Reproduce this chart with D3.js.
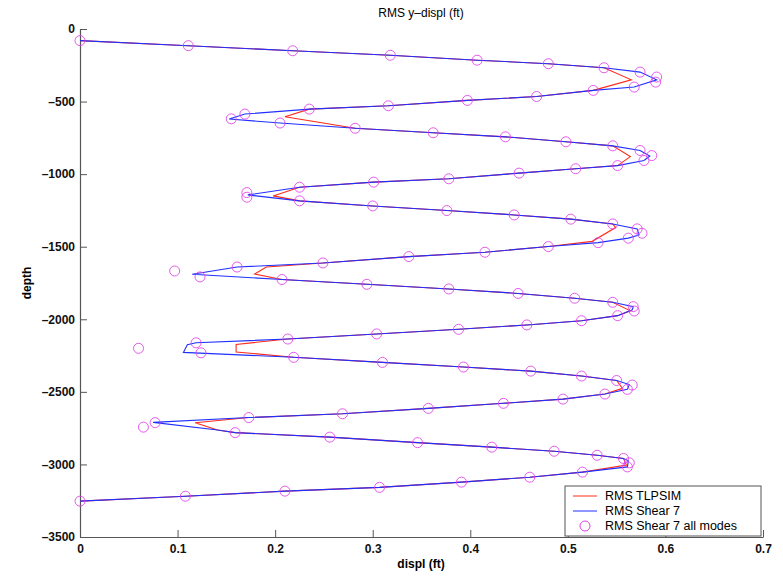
<!DOCTYPE html>
<html>
<head>
<meta charset="utf-8">
<script src="https://cdn.jsdelivr.net/npm/d3@7"></script>
<style>
    body { margin: 0; background: #fff; }
    text { font-family: "Liberation Sans", Arial, sans-serif; }
</style>
</head>
<body>
<svg id="chart"></svg>
<script>
const width = 783, height = 576;

// RMS TLPSIM (red line)
const tlpDepth = [-80, -115, -150, -181, -215, -239, -267, -350, -423, -465, -492, -529, -552, -605, -684,
    -715, -743, -777, -805, -879, -941, -963, -993, -1032, -1055, -1090, -1150, -1184, -1219, -1251, -1281,
    -1310, -1343, -1368, -1463, -1499, -1538, -1568, -1612, -1640, -1688, -1726, -1759, -1791, -1822, -1855,
    -1883, -1942, -1975, -2010, -2039, -2069, -2101, -2136, -2173, -2225, -2262, -2297, -2329, -2357, -2391,
    -2422, -2476, -2515, -2550, -2579, -2614, -2651, -2677, -2713, -2763, -2781, -2812, -2850, -2881, -2909,
    -2937, -2959, -3005, -3053, -3088, -3122, -3158, -3184, -3219, -3253];
const tlpDispl = [0, 0.111, 0.218, 0.318, 0.407, 0.480, 0.537, 0.565, 0.526, 0.468, 0.397, 0.316, 0.235, 0.210, 0.282,
    0.362, 0.436, 0.498, 0.546, 0.564, 0.551, 0.508, 0.450, 0.378, 0.301, 0.225, 0.198, 0.225, 0.300, 0.376, 0.445,
    0.503, 0.546, 0.549, 0.525, 0.480, 0.415, 0.337, 0.249, 0.191, 0.179, 0.207, 0.294, 0.378, 0.449, 0.507,
    0.546, 0.564, 0.551, 0.514, 0.458, 0.388, 0.304, 0.213, 0.160, 0.160, 0.219, 0.310, 0.393, 0.462, 0.514,
    0.550, 0.556, 0.538, 0.495, 0.434, 0.357, 0.269, 0.173, 0.118, 0.141, 0.159, 0.256, 0.346, 0.422, 0.486,
    0.530, 0.557, 0.560, 0.515, 0.461, 0.391, 0.307, 0.210, 0.108, 0];

// RMS Shear 7 (blue line)
const shrDepth = [-80, -115, -150, -181, -215, -239, -267, -297, -350, -400, -423, -465, -492, -529, -552, -586,
    -620, -648, -684, -715, -743, -777, -805, -837, -875, -906, -941, -963, -993, -1032, -1055, -1090, -1143,
    -1184, -1219, -1251, -1281, -1310, -1343, -1377, -1419, -1441, -1472, -1499, -1538, -1568, -1612, -1640,
    -1690, -1726, -1759, -1791, -1822, -1855, -1883, -1913, -1935, -1975, -2010, -2039, -2069, -2101, -2136,
    -2162, -2175, -2228, -2262, -2297, -2329, -2357, -2391, -2422, -2450, -2483, -2515, -2550, -2579, -2614,
    -2651, -2677, -2710, -2763, -2781, -2812, -2850, -2881, -2909, -2937, -2959, -2975, -3017, -3053, -3088,
    -3122, -3158, -3184, -3219, -3253];
const shrDispl = [0, 0.111, 0.218, 0.318, 0.407, 0.480, 0.537, 0.574, 0.591, 0.568, 0.526, 0.468, 0.397, 0.316, 0.235, 0.169,
    0.153, 0.205, 0.282, 0.362, 0.436, 0.498, 0.546, 0.574, 0.584, 0.578, 0.551, 0.508, 0.450, 0.378, 0.301, 0.225, 0.172,
    0.225, 0.300, 0.376, 0.445, 0.503, 0.546, 0.571, 0.573, 0.562, 0.531, 0.480, 0.415, 0.337, 0.249, 0.161,
    0.115, 0.207, 0.294, 0.378, 0.449, 0.507, 0.546, 0.567, 0.566, 0.551, 0.514, 0.458, 0.388, 0.304, 0.213,
    0.119, 0.110, 0.106, 0.219, 0.310, 0.393, 0.462, 0.514, 0.550, 0.563, 0.561, 0.538, 0.495, 0.434, 0.357,
    0.269, 0.173, 0.075, 0.141, 0.159, 0.256, 0.346, 0.422, 0.486, 0.530, 0.557, 0.562, 0.561, 0.515, 0.461,
    0.391, 0.307, 0.210, 0.108, 0];

// RMS Shear 7 all modes (circles)
const allDepth = [-80, -115, -150, -181, -215, -239, -267, -297, -331, -366, -400, -423, -465, -492, -529, -552,
    -586, -619, -648, -684, -715, -743, -777, -805, -837, -872, -906, -941, -963, -993, -1032, -1055, -1090,
    -1127, -1159, -1184, -1219, -1251, -1281, -1310, -1343, -1377, -1407, -1441, -1472, -1499, -1538, -1568,
    -1612, -1640, -1667, -1708, -1726, -1759, -1791, -1822, -1855, -1883, -1913, -1943, -1975, -2010, -2039,
    -2069, -2101, -2136, -2162, -2200, -2231, -2262, -2297, -2329, -2357, -2391, -2422, -2453, -2483, -2515,
    -2550, -2579, -2614, -2651, -2677, -2712, -2743, -2781, -2812, -2850, -2881, -2909, -2937, -2959, -2989,
    -3017, -3053, -3088, -3122, -3158, -3184, -3219, -3253];
const allDispl = [0, 0.111, 0.218, 0.318, 0.407, 0.480, 0.537, 0.574, 0.591, 0.590, 0.568, 0.526, 0.468, 0.397, 0.316, 0.235,
    0.169, 0.155, 0.205, 0.282, 0.362, 0.436, 0.498, 0.546, 0.574, 0.586, 0.578, 0.551, 0.508, 0.450, 0.378, 0.301, 0.225,
    0.171, 0.171, 0.225, 0.300, 0.376, 0.445, 0.503, 0.546, 0.571, 0.576, 0.562, 0.531, 0.480, 0.415, 0.337,
    0.249, 0.161, 0.097, 0.123, 0.207, 0.294, 0.378, 0.449, 0.507, 0.546, 0.567, 0.568, 0.551, 0.514, 0.458,
    0.388, 0.304, 0.213, 0.119, 0.060, 0.124, 0.219, 0.310, 0.393, 0.462, 0.514, 0.550, 0.566, 0.561, 0.538,
    0.495, 0.434, 0.357, 0.269, 0.173, 0.077, 0.065, 0.159, 0.256, 0.346, 0.422, 0.486, 0.530, 0.557, 0.563,
    0.561, 0.515, 0.461, 0.391, 0.307, 0.210, 0.108, 0];

const xTicks = [0, 0.1, 0.2, 0.3, 0.4, 0.5, 0.6, 0.7];
const yTicks = [0, -500, -1000, -1500, -2000, -2500, -3000, -3500];
const legendNames = ["RMS TLPSIM", "RMS Shear 7", "RMS Shear 7 all modes"];

const x = d3.scaleLinear().domain([0, 0.7]).range([80, 763]);
const y = d3.scaleLinear().domain([0, -3500]).range([29, 537]);

let svg = d3.select("#chart")
    .attr("width", width)
    .attr("height", height);

let line = d3.line()
    .x(function (d) { return x(d[0]); })
    .y(function (d) { return y(d[1]); });

// axes with inward ticks
let xAxis = svg.append("g")
    .attr("transform", "translate(0," + y(-3500) + ")")
    .call(d3.axisBottom(x).tickValues(xTicks).tickSizeInner(-7).tickSizeOuter(0).tickPadding(7)
        .tickFormat(function (d) { return d === 0 ? "0" : d3.format(".1f")(d); }));

let yAxis = svg.append("g")
    .attr("transform", "translate(" + x(0) + ",0)")
    .call(d3.axisLeft(y).tickValues(yTicks).tickSizeInner(-7).tickSizeOuter(0).tickPadding(5)
        .tickFormat(function (d) { return d === 0 ? "0" : "\u2013" + Math.abs(d); }));

[xAxis, yAxis].forEach(function (g) {
    g.select(".domain").attr("stroke", "#555").attr("stroke-width", 1.2);
    g.selectAll(".tick line").attr("stroke", "#555");
    g.selectAll(".tick text")
        .attr("fill", "#111")
        .style("font-size", "12px")
        .style("font-weight", "bold")
        .style("font-family", "'Liberation Sans', Arial, sans-serif");
});

const tlpData = tlpDepth.map(function (d, i) { return [tlpDispl[i], d]; });
const shrData = shrDepth.map(function (d, i) { return [shrDispl[i], d]; });
const allData = allDepth.map(function (d, i) { return [allDispl[i], d]; });

svg.append("path")
    .datum(tlpData)
    .attr("d", line)
    .attr("fill", "none")
    .attr("stroke", "#ff2a1a")
    .attr("stroke-width", 1.1);

svg.append("path")
    .datum(shrData)
    .attr("d", line)
    .attr("fill", "none")
    .attr("stroke", "#2030ff")
    .attr("stroke-width", 1.1);

svg.selectAll(".mode")
    .data(allData)
    .enter().append("circle")
    .attr("class", "mode")
    .attr("cx", function (d) { return x(d[0]); })
    .attr("cy", function (d) { return y(d[1]); })
    .attr("r", 5)
    .attr("fill", "none")
    .attr("stroke", "#e040e8")
    .attr("stroke-opacity", 0.85)
    .attr("stroke-width", 1);

// title and axis labels
svg.append("text")
    .attr("x", 421)
    .attr("y", 17)
    .attr("text-anchor", "middle")
    .style("font-size", "12px")
    .text("RMS y\u2013displ (ft)");

svg.append("text")
    .attr("x", 421)
    .attr("y", 568)
    .attr("text-anchor", "middle")
    .style("font-size", "12px")
    .style("font-weight", "bold")
    .text("displ (ft)");

svg.append("text")
    .attr("transform", "translate(31,283) rotate(-90)")
    .attr("text-anchor", "middle")
    .style("font-size", "12px")
    .style("font-weight", "bold")
    .text("depth");

// legend
let legend = svg.append("g")
    .attr("transform", "translate(565,486)");

legend.append("rect")
    .attr("width", 196)
    .attr("height", 50)
    .attr("fill", "#fff")
    .attr("stroke", "#555")
    .attr("stroke-width", 1);

let item = legend.selectAll(".item")
    .data(legendNames)
    .enter().append("g")
    .attr("class", "item")
    .attr("transform", function (d, i) { return "translate(0," + (10 + i * 15) + ")"; });

item.filter(function (d, i) { return i < 2; })
    .append("line")
    .attr("x1", 8).attr("x2", 32)
    .attr("stroke", function (d, i) { return i === 0 ? "#ff2a1a" : "#2030ff"; });

item.filter(function (d, i) { return i === 2; })
    .append("circle")
    .attr("cx", 20)
    .attr("r", 5)
    .attr("fill", "none")
    .attr("stroke", "#e040e8");

item.append("text")
    .attr("x", 40)
    .attr("dy", "0.35em")
    .style("font-size", "12.5px")
    .text(function (d) { return d; });
</script>
</body>
</html>
